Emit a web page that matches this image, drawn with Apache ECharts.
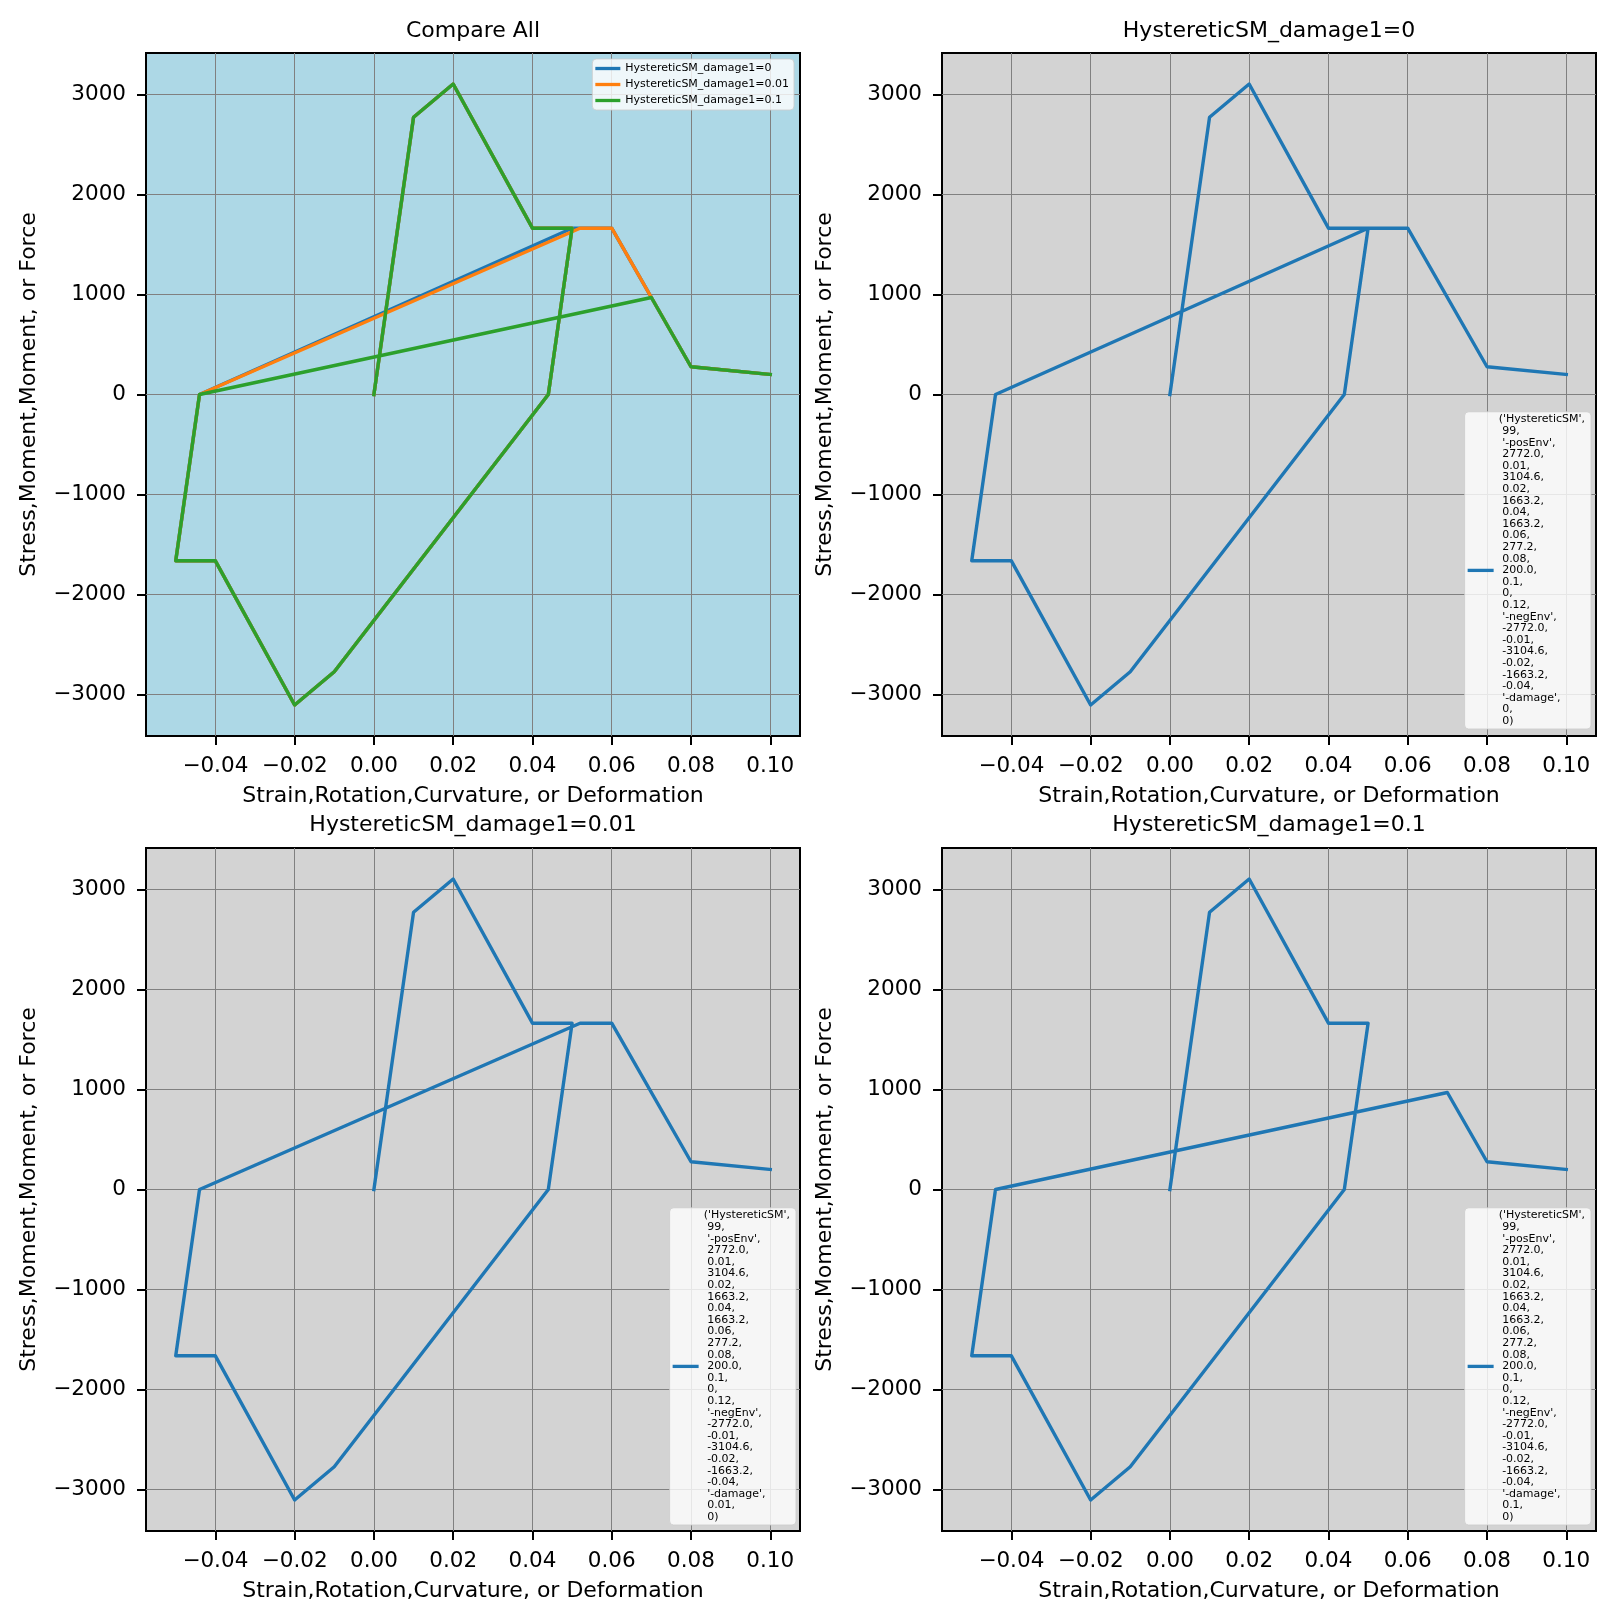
<!DOCTYPE html>
<html><head><meta charset="utf-8">
<script src="https://cdn.jsdelivr.net/npm/echarts@6/dist/echarts.min.js"></script>
<style>html,body{margin:0;padding:0;background:#fff}#c{width:1615px;height:1622px}</style>
</head><body><div id="c"></div>
<script>
// ---- data ----
const xDamage0   = [0, 0.01, 0.02, 0.04, 0.05, 0.044, -0.01, -0.02, -0.04, -0.05, -0.044, 0.05, 0.06, 0.08, 0.1];
const yDamage0   = [0, 2772, 3104.6, 1663.2, 1663.2, 0, -2772, -3104.6, -1663.2, -1663.2, 0, 1663.2, 1663.2, 277.2, 200];
const xDamage001 = [0, 0.01, 0.02, 0.04, 0.05, 0.044, -0.01, -0.02, -0.04, -0.05, -0.044, 0.052, 0.06, 0.08, 0.1];
const yDamage001 = [0, 2772, 3104.6, 1663.2, 1663.2, 0, -2772, -3104.6, -1663.2, -1663.2, 0, 1663.2, 1663.2, 277.2, 200];
const xDamage01  = [0, 0.01, 0.02, 0.04, 0.05, 0.044, -0.01, -0.02, -0.04, -0.05, -0.044, 0.07, 0.08, 0.1];
const yDamage01  = [0, 2772, 3104.6, 1663.2, 1663.2, 0, -2772, -3104.6, -1663.2, -1663.2, 0, 970.2, 277.2, 200];
const xTicks = [-0.04, -0.02, 0, 0.02, 0.04, 0.06, 0.08, 0.10];
const yTicks = [-3000, -2000, -1000, 0, 1000, 2000, 3000];
const seriesNames = ['HystereticSM_damage1=0', 'HystereticSM_damage1=0.01', 'HystereticSM_damage1=0.1'];
const damageValues = ['0', '0.01', '0.1'];
const titles = ['Compare All', 'HystereticSM_damage1=0', 'HystereticSM_damage1=0.01', 'HystereticSM_damage1=0.1'];
const xName = 'Strain,Rotation,Curvature, or Deformation';
const yName = 'Stress,Moment,Moment, or Force';
const argsHead = ["'HystereticSM'", "99", "'-posEnv'", "2772.0", "0.01", "3104.6", "0.02", "1663.2", "0.04", "1663.2", "0.06", "277.2", "0.08", "200.0", "0.1", "0", "0.12", "'-negEnv'", "-2772.0", "-0.01", "-3104.6", "-0.02", "-1663.2", "-0.04", "'-damage'"];
const argsTail = ["0"];

// ---- build ----
const FONT = 'DejaVu Sans';
const zip = (xs, ys) => xs.map((x, i) => [x, ys[i]]);
const curves = [zip(xDamage0, yDamage0), zip(xDamage001, yDamage001), zip(xDamage01, yDamage01)];
const colors = ['#1f77b4', '#ff7f0e', '#2ca02c'];

const allX = [].concat(xDamage0, xDamage001, xDamage01);
const allY = [].concat(yDamage0, yDamage001, yDamage01);
const xr = [Math.min(...allX), Math.max(...allX)], yr = [Math.min(...allY), Math.max(...allY)];
const xMin = xr[0] - 0.05 * (xr[1] - xr[0]), xMax = xr[1] + 0.05 * (xr[1] - xr[0]);
const yMin = yr[0] - 0.05 * (yr[1] - yr[0]), yMax = yr[1] + 0.05 * (yr[1] - yr[0]);

function argText(d) {
  const parts = argsHead.concat([d], argsTail);
  return '(' + parts.join(',\n ') + ')';
}
const fmtMinus = s => s.replace('-', '\u2212');

const gridPos = [[146, 53], [942, 53], [146, 848], [942, 848]];
const bg = ['#add8e6', '#d3d3d3', '#d3d3d3', '#d3d3d3'];
const grid = gridPos.map((p, i) => ({
  left: p[0], top: p[1], width: 654, height: 683, show: true,
  backgroundColor: bg[i], borderColor: '#000', borderWidth: 2,
  containLabel: false, outerBoundsMode: 'none'
}));
const xAxis = gridPos.map((p, i) => ({
  type: 'value', gridIndex: i, min: xMin, max: xMax,
  name: xName, nameLocation: 'middle', nameGap: 49, nameMoveOverlap: false,
  nameTextStyle: { fontSize: 22, color: '#000', fontFamily: FONT },
  axisLine: { show: false, onZero: false },
  axisTick: { show: true, inside: false, length: 9, lineStyle: { color: '#000', width: 2 }, customValues: xTicks },
  axisLabel: { customValues: xTicks, formatter: v => fmtMinus(Number(v).toFixed(2)), fontSize: 21.5, color: '#000', margin: 19, fontFamily: FONT },
  splitLine: { show: true, lineStyle: { color: '#808080', width: 1 } }
}));
const yAxis = gridPos.map((p, i) => ({
  type: 'value', gridIndex: i, min: yMin, max: yMax,
  name: yName, nameLocation: 'middle', nameGap: 106, nameMoveOverlap: false,
  nameTextStyle: { fontSize: 22, color: '#000', fontFamily: FONT },
  axisLine: { show: false, onZero: false },
  axisTick: { show: true, inside: false, length: 9, lineStyle: { color: '#000', width: 2 }, customValues: yTicks },
  axisLabel: { customValues: yTicks, formatter: v => fmtMinus(String(Math.round(v))), fontSize: 21.5, color: '#000', margin: 20, fontFamily: FONT },
  splitLine: { show: true, lineStyle: { color: '#808080', width: 1 } }
}));
const lineStyleBase = { width: 3.4, join: 'round', cap: 'square' };
const series = [];
curves.forEach((c, k) => series.push({
  type: 'line', name: seriesNames[k], xAxisIndex: 0, yAxisIndex: 0, data: c,
  symbol: 'none', color: colors[k], lineStyle: Object.assign({ color: colors[k] }, lineStyleBase), z: 2 + k
}));
const subNames = damageValues.map(d => 'args_damage1=' + d);
curves.forEach((c, k) => series.push({
  type: 'line', name: subNames[k], xAxisIndex: k + 1, yAxisIndex: k + 1, data: c,
  symbol: 'none', color: colors[0], lineStyle: Object.assign({ color: colors[0] }, lineStyleBase)
}));
const titleCenters = [[473, 20], [1269, 20], [473, 814], [1269, 814]];
const title = titles.map((t, i) => ({
  text: t, left: titleCenters[i][0], top: titleCenters[i][1], textAlign: 'center', padding: 0,
  textStyle: { fontSize: 22, fontWeight: 'normal', color: '#000', fontFamily: FONT }
}));
const legendBox = { backgroundColor: 'rgba(255,255,255,0.8)', borderColor: 'rgba(204,204,204,0.8)', borderWidth: 1, borderRadius: 4 };
const legend = [Object.assign({
  orient: 'vertical', right: 821, top: 59, data: seriesNames, icon: 'rect', itemWidth: 25, itemHeight: 3.3, itemGap: 4,
  padding: [3.5, 5, 3.5, 3], selectedMode: false,
  textStyle: { fontSize: 11, lineHeight: 12, color: '#000', fontFamily: FONT }
}, legendBox)];
const legendRB = [[24, 893], [819, 97], [24, 97]];
subNames.forEach((n, k) => legend.push(Object.assign({
  orient: 'vertical', right: legendRB[k][0], bottom: legendRB[k][1], data: [n], icon: 'rect', itemWidth: 26, itemHeight: 3.3,
  padding: [2, 6, 2, 3], selectedMode: false,
  formatter: () => argText(damageValues[k]),
  textStyle: { fontSize: 11, lineHeight: 11.6, color: '#000', fontFamily: FONT }
}, legendBox)));

const chart = echarts.init(document.getElementById('c'), null, { renderer: 'canvas', devicePixelRatio: 1 });
chart.setOption({ animation: false, backgroundColor: '#fff', title, legend, grid, xAxis, yAxis, series });
</script></body></html>
